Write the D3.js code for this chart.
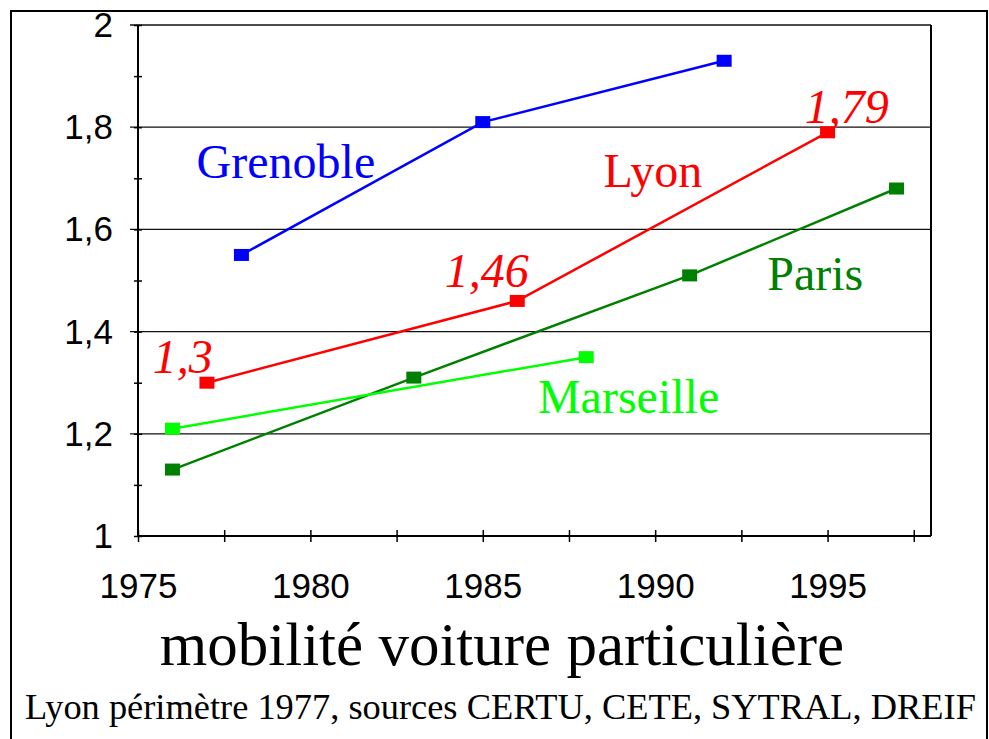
<!DOCTYPE html>
<html>
<head>
<meta charset="utf-8">
<script src="https://cdn.jsdelivr.net/npm/d3@7"></script>
<style>
  body { margin: 0; background: #fff; }
  svg { display: block; }
</style>
</head>
<body>
<div id="chart"></div>
<script>
// data
const grenobleYears = [1978, 1985, 1992];
const grenobleValues = [1.55, 1.81, 1.93];
const lyonYears = [1977, 1986, 1995];
const lyonValues = [1.30, 1.46, 1.79];
const parisYears = [1976, 1983, 1991, 1997];
const parisValues = [1.13, 1.31, 1.51, 1.68];
const marseilleYears = [1976, 1988];
const marseilleValues = [1.21, 1.35];

const xTickLabels = [1975, 1980, 1985, 1990, 1995];
const xMinorTicks = d3.range(1975, 1998.1, 2.5);
const yTickLabels = [1, 1.2, 1.4, 1.6, 1.8, 2];
const yMinorTicks = d3.range(1, 2.01, 0.1);

const width = 989, height = 739;
const serif = "'Liberation Serif', 'Times New Roman', Times, serif";
const sans = "'Liberation Sans', Arial, Helvetica, sans-serif";

const series = [
  { name: "Grenoble", color: "#0000ff", years: grenobleYears, values: grenobleValues, lx: 1976.7, ly: 1.700 },
  { name: "Lyon", color: "#ff0000", years: lyonYears, values: lyonValues, lx: 1988.5, ly: 1.683 },
  { name: "Paris", color: "#008000", years: parisYears, values: parisValues, lx: 1993.25, ly: 1.481 },
  { name: "Marseille", color: "#00ff00", years: marseilleYears, values: marseilleValues, lx: 1986.6, ly: 1.241 }
];

const svg = d3.select("#chart")
  .append("svg")
    .attr("width", width)
    .attr("height", height);

// outer frame (open at the bottom, like the scan)
svg.append("path")
  .attr("d", `M11,${height} V11 H987 V${height}`)
  .attr("fill", "none")
  .attr("stroke", "#000")
  .attr("stroke-width", 2);

const xScale = d3.scaleLinear()
  .domain([1975, 1998])
  .range([138, 931]);

const yScale = d3.scaleLinear()
  .domain([1, 2])
  .range([536, 25]);

const fmt = d => (+d.toFixed(2)).toString().replace(".", ",");

// gridlines
svg.append("g")
  .selectAll("line")
  .data(yTickLabels.filter(d => d > 1))
  .join("line")
    .attr("x1", 130)
    .attr("x2", xScale(1998))
    .attr("y1", d => yScale(d))
    .attr("y2", d => yScale(d))
    .attr("stroke", "#111")
    .attr("stroke-width", 1.3);

// right border of the plot
svg.append("line")
  .attr("x1", xScale(1998)).attr("x2", xScale(1998))
  .attr("y1", yScale(2)).attr("y2", yScale(1))
  .attr("stroke", "#000")
  .attr("stroke-width", 2);

// y axis
const leftAxis = d3.axisLeft(yScale)
  .tickValues(yMinorTicks)
  .tickSize(4)
  .tickFormat(d => yTickLabels.some(v => Math.abs(v - d) < 1e-6) ? fmt(d) : "");

const yAxisG = svg.append("g")
  .attr("transform", `translate(${xScale(1975)},0)`)
  .call(leftAxis)
  .attr("font-family", sans)
  .attr("font-size", 35);
yAxisG.select(".domain").attr("d", `M0,${yScale(2)}V${yScale(1)}`).attr("stroke-width", 2);
yAxisG.selectAll(".tick line").attr("x1", 4).attr("x2", -4).attr("stroke-width", 1.5);
yAxisG.selectAll(".tick text")
  .attr("x", -25)
  .attr("dy", "0.33em")
  .attr("fill", "#000");

// x axis
const bottomAxis = d3.axisBottom(xScale)
  .tickValues(xMinorTicks)
  .tickSize(6)
  .tickFormat(d => xTickLabels.includes(d) ? d : "");

const xAxisG = svg.append("g")
  .attr("transform", `translate(0,${yScale(1)})`)
  .call(bottomAxis)
  .attr("font-family", sans)
  .attr("font-size", 35);
xAxisG.select(".domain").attr("d", `M${xScale(1975)},0H${xScale(1998)}`).attr("stroke-width", 2);
xAxisG.selectAll(".tick line").attr("y1", -6).attr("y2", 6).attr("stroke-width", 1.5);
xAxisG.selectAll(".tick text")
  .attr("y", 62)
  .attr("dy", null)
  .attr("fill", "#000");

// lines and markers
const line = d3.line()
  .x(d => xScale(d[0]))
  .y(d => yScale(d[1]));

series.forEach(s => {
  const pts = s.years.map((y, i) => [y, s.values[i]]);
  svg.append("path")
    .datum(pts)
    .attr("d", line)
    .attr("fill", "none")
    .attr("stroke", s.color)
    .attr("stroke-width", 2.5);
  svg.append("g")
    .selectAll("rect")
    .data(pts)
    .join("rect")
      .attr("x", d => xScale(d[0]) - 7.5)
      .attr("y", d => yScale(d[1]) - 6)
      .attr("width", 15)
      .attr("height", 12)
      .attr("fill", s.color);
  svg.append("text")
    .attr("x", xScale(s.lx))
    .attr("y", yScale(s.ly))
    .attr("fill", s.color)
    .attr("font-family", serif)
    .attr("font-size", 48)
    .text(s.name);
});

// Lyon value labels
const lyonLabelPos = [[1975.43, 1.319], [1983.9, 1.487], [1994.34, 1.808]];
svg.append("g")
  .selectAll("text")
  .data(lyonValues)
  .join("text")
    .attr("x", (d, i) => xScale(lyonLabelPos[i][0]))
    .attr("y", (d, i) => yScale(lyonLabelPos[i][1]))
    .attr("fill", "#ff0000")
    .attr("font-family", serif)
    .attr("font-style", "italic")
    .attr("font-size", 48)
    .text(d => fmt(d));

// title and source
svg.append("text")
  .attr("x", 502)
  .attr("y", 665)
  .attr("text-anchor", "middle")
  .attr("font-family", serif)
  .attr("font-size", 61)
  .text("mobilité voiture particulière");

svg.append("text")
  .attr("x", 25)
  .attr("y", 719)
  .attr("font-family", serif)
  .attr("font-size", 36.4)
  .text("Lyon périmètre 1977, sources CERTU, CETE, SYTRAL, DREIF");
</script>
</body>
</html>
